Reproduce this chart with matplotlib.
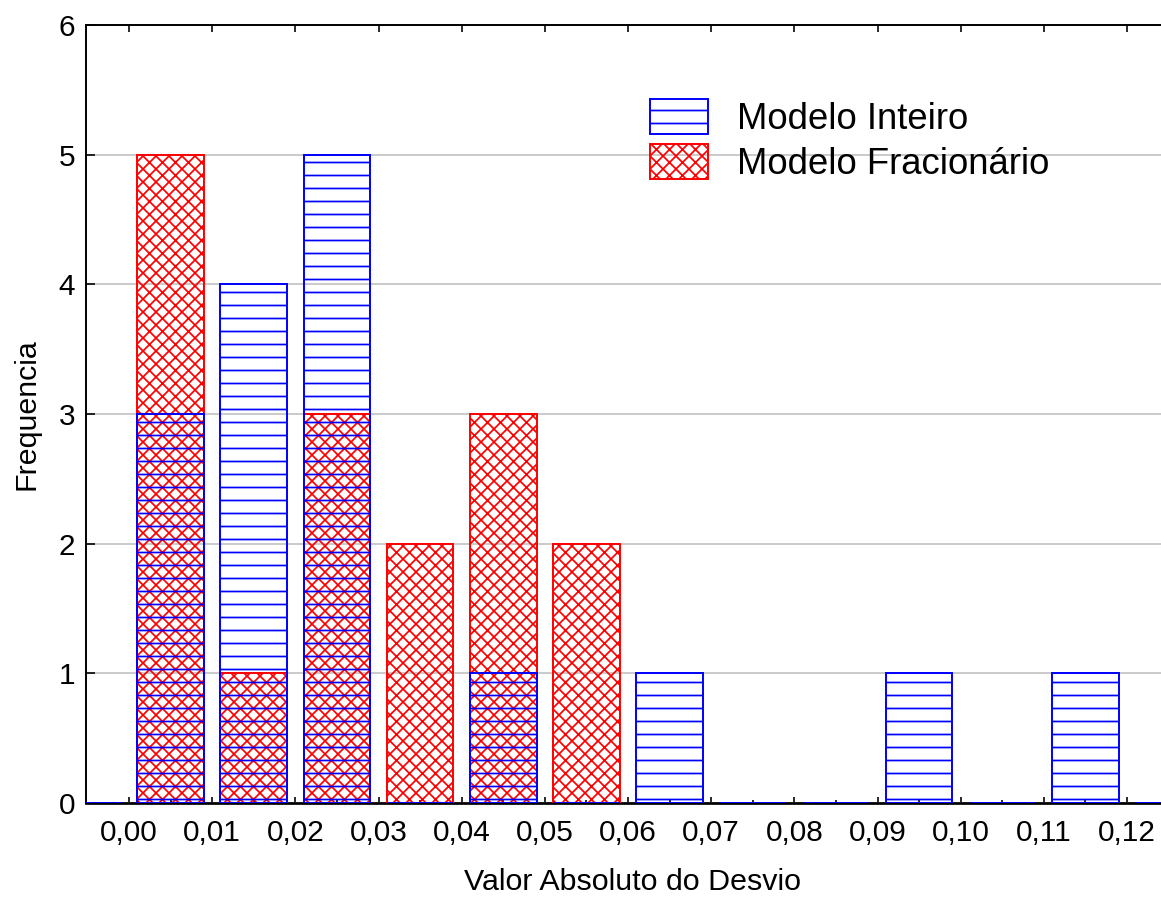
#!/usr/bin/python3

# Histograma dos desvios absolutos - modelo inteiro vs fracionario

import numpy as np
import matplotlib
matplotlib.use('Agg')
import matplotlib.pyplot as plt

# --------------------------------------------------------------------
# DADOS
# --------------------------------------------------------------------

bin_left = [-0.01, 0.00, 0.01, 0.02, 0.03, 0.04, 0.05, 0.06,
            0.07, 0.08, 0.09, 0.10, 0.11, 0.12]
freq_inteiro = [0, 3, 4, 5, 0, 1, 0, 1, 0, 0, 1, 0, 1, 0]
freq_fracionario = [0, 5, 1, 3, 2, 3, 2, 0, 0, 0, 0, 0, 0, 0]

xticks = [0.00, 0.01, 0.02, 0.03, 0.04, 0.05, 0.06,
          0.07, 0.08, 0.09, 0.10, 0.11, 0.12]
xtick_labels = ['0,00', '0,01', '0,02', '0,03', '0,04', '0,05', '0,06',
                '0,07', '0,08', '0,09', '0,10', '0,11', '0,12']
yticks = [0, 1, 2, 3, 4, 5, 6]

# --------------------------------------------------------------------
# GRAFICO
# --------------------------------------------------------------------

DPI = 78
plt.rcParams['font.family'] = ['Liberation Sans', 'DejaVu Sans']
plt.rcParams['hatch.linewidth'] = 1.6

fig = plt.figure(figsize=(1161 / DPI, 898 / DPI), dpi=DPI)
ax = fig.add_axes([86 / 1161, 1 - 803 / 898, (1178 - 86) / 1161, (803 - 25) / 898])

centers = np.array(bin_left) + 0.005
width = 0.0080

ax.bar(centers, freq_fracionario, width=width, facecolor='none',
       edgecolor='#ff0000', hatch='xx', linewidth=1.8,
       label='Modelo Fracionário', zorder=3)
ax.bar(centers, freq_inteiro, width=width, facecolor='none',
       edgecolor='#0000ff', hatch='-', linewidth=1.8,
       label='Modelo Inteiro', zorder=3)

ax.set_xlim(-0.00517, 0.12613)
ax.set_ylim(0, 6)

ax.set_xticks(xticks)
ax.set_xticklabels(xtick_labels)
ax.set_xticks(np.array(xticks) + 0.005, minor=True)
ax.set_yticks(yticks)

ax.tick_params(axis='both', which='major', direction='in', labelsize=27.5,
               width=1.5, colors='black')
ax.tick_params(axis='x', which='major', length=6, pad=15, top=True)
ax.tick_params(axis='x', which='minor', direction='in', length=3, width=1.5)
ax.tick_params(axis='y', which='major', length=8, pad=10)

for s in ax.spines.values():
    s.set_linewidth(1.8)
ax.spines['bottom'].set_linewidth(2.5)

ax.grid(axis='y', color='#c0c0c0', linewidth=1.5, zorder=0)
ax.set_axisbelow(True)

ax.set_xlabel('Valor Absoluto do Desvio', fontsize=28, labelpad=19)
ax.set_ylabel('Frequencia', fontsize=28, labelpad=17)

handles, labels = ax.get_legend_handles_labels()
leg = fig.legend(handles[::-1], labels[::-1], loc='upper left',
                 bbox_to_anchor=(650 / 1161, 1 - 99 / 898),
                 frameon=False, fontsize=33.7, borderpad=0, borderaxespad=0,
                 handlelength=1.59, handleheight=1.10, handletextpad=0.8,
                 labelspacing=0.2)

fig.savefig('out.png', dpi=DPI)
